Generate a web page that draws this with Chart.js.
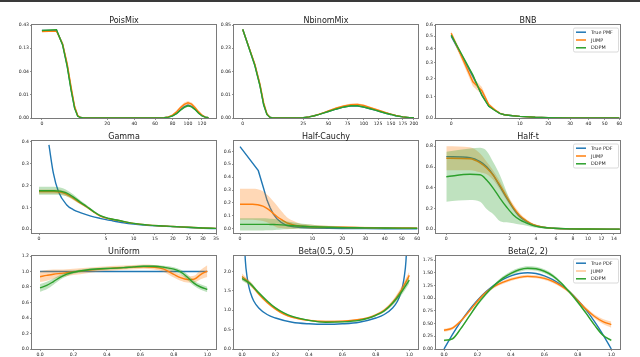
<!DOCTYPE html>
<html>
<head>
<meta charset="utf-8">
<script src="https://cdn.jsdelivr.net/npm/chart.js@4.4.0/dist/chart.umd.min.js"></script>
<style>
  html, body { margin: 0; padding: 0; background: #fff; }
  #page { position: relative; width: 640px; height: 357px; overflow: hidden; background: #fff; }
  #topbar { position: absolute; left: 0; top: 0; width: 640px; height: 2px; background: #3a3a3a; }
  canvas { position: absolute; }
</style>
</head>
<body>
<div id="page"><div id="topbar"></div></div>
<script>
// colours (matplotlib tab10)
const BLUE = '#1f77b4', ORANGE = '#ff7f0e', GREEN = '#2ca02c';
const ORANGE_FILL = 'rgba(255,127,14,0.3)', GREEN_FILL = 'rgba(44,160,44,0.3)';
const FRAME = '#7a7a7a', TEXT = '#262626';
const FONT = 'DejaVu Sans';

// ---------- PoisMix ----------
const poisX = [0,1,2,3,4,5,6,7,8,10,15,20,30,40,50,60,65,70,75,80,85,90,95,100,105,110,115,120,125,130];
const poisTrue = [0.33,0.33,0.166,0.055,0.014,0.003,0.0005,0.0001,0,0,0,0,0,0,0,0,
  0.00001,0.00005,0.0002,0.0005,0.0012,0.0023,0.0034,0.004,0.0035,0.0024,0.0013,0.0006,0.0002,0.00005];
const poisJump = [0.315,0.32,0.17,0.06,0.016,0.0035,0.0006,0.0001,0,0,0,0,0,0,0,0,
  0.00001,0.00005,0.00025,0.0007,0.0016,0.003,0.0043,0.005,0.0044,0.003,0.0016,0.0007,0.0002,0.00005];
const poisJumpSd = [0.008,0.008,0.012,0.008,0.003,0.001,0.0002,0,0,0,0,0,0,0,0,0,
  0,0,0.0001,0.0002,0.0004,0.0006,0.0008,0.0009,0.0008,0.0006,0.0004,0.0002,0.0001,0];
const poisDdpm = [0.33,0.345,0.16,0.052,0.013,0.0028,0.0004,0.0001,0,0,0,0,0,0,0,0,
  0.00001,0.00005,0.0002,0.0005,0.0011,0.0021,0.0031,0.0037,0.0033,0.0023,0.0012,0.0005,0.0002,0.00005];
const poisDdpmSd = [0.006,0.006,0.006,0.003,0.001,0.0003,0,0,0,0,0,0,0,0,0,0,
  0,0,0,0.0001,0.0001,0.0002,0.0002,0.0003,0.0002,0.0002,0.0001,0.0001,0,0];
const poisXTicks = [0,20,40,60,80,100,120];
const poisYLabels = ['0.00','0.01','0.04','0.13','0.43'];

// ---------- NbinomMix ----------
const nbX = [0,1,2,3,4,5,6,8,10,15,20,25,30,35,40,45,50,60,70,80,90,100,110,120,130,140,150,160,175,190,200];
const nbTrue = [0.665,0.085,0.025,0.005,0.001,0.0002,0,0,0,0,
  0.00003,0.0001,0.0003,0.0006,0.001,0.0015,0.002,0.003,0.0039,0.0044,0.0043,0.0038,0.0031,0.0025,0.0019,0.0014,0.001,0.0006,0.0003,0.0001,0.00005];
const nbJump = [0.66,0.09,0.027,0.006,0.0012,0.0002,0,0,0,0,
  0.00003,0.0001,0.0003,0.0006,0.0011,0.0016,0.0022,0.0034,0.0044,0.0051,0.0052,0.0046,0.0037,0.0029,0.0022,0.0016,0.0011,0.0007,0.0003,0.0001,0.00005];
const nbJumpSd = [0.01,0.006,0.003,0.001,0.0003,0,0,0,0,0,
  0,0,0.0001,0.0001,0.0002,0.0002,0.0003,0.0004,0.0005,0.0006,0.0006,0.0005,0.0004,0.0003,0.0003,0.0002,0.0002,0.0001,0.0001,0,0];
const nbDdpm = [0.67,0.083,0.024,0.005,0.001,0.0002,0,0,0,0,
  0.00003,0.0001,0.0003,0.0006,0.001,0.0015,0.002,0.003,0.0039,0.0045,0.0045,0.0039,0.0032,0.0025,0.0019,0.0014,0.001,0.0006,0.0003,0.0001,0.00005];
const nbDdpmSd = [0.008,0.004,0.002,0.0008,0.0002,0,0,0,0,0,
  0,0,0,0.0001,0.0001,0.0001,0.0002,0.0002,0.0002,0.0003,0.0003,0.0002,0.0002,0.0002,0.0001,0.0001,0.0001,0,0,0,0];
const nbXTicks = [0,25,50,75,100,125,150,175,200];
const nbYLabels = ['0.00','0.01','0.06','0.23','0.85'];

// ---------- BNB ----------
const bnbX = [0,1,2,3,4,5,6,8,10,15,20,30,40,50,60];
const bnbTrue = [0.5,0.21,0.11,0.053,0.035,0.02,0.014,0.0098,0.007,0.003,0.0015,0.0005,0.0002,0.0001,0];
const bnbJump = [0.525,0.18,0.13,0.06,0.037,0.021,0.014,0.01,0.007,0.003,0.0015,0.0005,0.0002,0.0001,0];
const bnbJumpSd = [0.02,0.025,0.02,0.008,0.004,0.002,0.001,0.001,0.001,0,0,0,0,0,0];
const bnbDdpm = [0.51,0.22,0.105,0.052,0.034,0.02,0.014,0.0098,0.007,0.003,0.0015,0.0005,0.0002,0.0001,0];
const bnbDdpmSd = [0.008,0.006,0.004,0.003,0.002,0.001,0.001,0,0,0,0,0,0,0,0];
const bnbXTicks = [0,10,20,30,40,50,60];
const bnbYTicks = [0,0.1,0.2,0.3,0.4,0.5,0.6];

// ---------- Gamma ----------
const gamTrueX = [0.11,0.23,0.42,0.86,1.3,1.9,3,4.15,6,8,10,13,16,20,25,30,35];
const gamTrue = [0.385,0.256,0.172,0.111,0.09,0.076,0.06,0.05,0.039,0.03,0.024,0.018,0.015,0.012,0.008,0.005,0.003];
const gamX = [0,0.1,0.25,0.5,0.8,1.3,1.9,2.5,3.3,4.2,5.5,7,10,13,16,20,25,30,35];
const gamJump = [0.172,0.172,0.172,0.17,0.162,0.142,0.12,0.103,0.08,0.06,0.048,0.04,0.027,0.02,0.016,0.013,0.009,0.006,0.004];
const gamJumpSd = [0.01,0.01,0.01,0.01,0.01,0.008,0.006,0.005,0.004,0.003,0.003,0.002,0.002,0.001,0.001,0.001,0.001,0.001,0.001];
const gamDdpm = [0.176,0.176,0.176,0.174,0.167,0.148,0.124,0.105,0.082,0.062,0.049,0.041,0.027,0.02,0.016,0.013,0.009,0.006,0.004];
const gamDdpmSd = [0.018,0.018,0.018,0.017,0.015,0.012,0.009,0.007,0.005,0.004,0.003,0.003,0.002,0.002,0.001,0.001,0.001,0.001,0.001];
const gamXTicks = [0,5,10,15,20,25,30,35];
const gamYTicks = [0,0.1,0.2,0.3,0.4];

// ---------- Half-Cauchy ----------
const hcTrueX = [0,0.64,1.04,1.4,1.72,2.1,2.57,3.2,4.16,5.5,7,10,15,20,30,40,50,60];
const hcTrue = [0.637,0.45,0.32,0.22,0.165,0.115,0.08,0.05,0.025,0.015,0.01,0.006,0.003,0.0016,0.0007,0.0004,0.0003,0.0002];
const hcX = [0,0.3,0.6,1,1.5,2,2.6,3.3,4.2,5.5,7,9.4,12,15,20,25,30,40,50,60];
const hcJump = [0.19,0.19,0.186,0.175,0.152,0.125,0.095,0.07,0.045,0.03,0.021,0.016,0.013,0.012,0.011,0.01,0.009,0.007,0.006,0.005];
const hcJumpSd = [0.12,0.12,0.12,0.115,0.105,0.095,0.085,0.065,0.045,0.03,0.018,0.017,0.014,0.012,0.01,0.008,0.007,0.006,0.005,0.005];
const hcDdpm = [0.034,0.034,0.034,0.034,0.034,0.033,0.032,0.03,0.027,0.023,0.02,0.016,0.013,0.011,0.009,0.008,0.007,0.006,0.005,0.004];
const hcDdpmSd = [0.048,0.048,0.048,0.047,0.046,0.044,0.04,0.035,0.03,0.025,0.02,0.016,0.013,0.011,0.009,0.008,0.007,0.006,0.005,0.004];
const hcXTicks = [0,10,20,30,40,50,60];
const hcYTicks = [0,0.1,0.2,0.3,0.4,0.5,0.6];

// ---------- Half-t ----------
const htX = [0,0.28,0.57,0.81,1.1,1.44,1.82,2.24,2.7,3.22,3.77,4.69,5.7,7.6,10,15];
const htTrue = [0.70,0.69,0.652,0.603,0.523,0.41,0.30,0.20,0.12,0.073,0.041,0.019,0.01,0.003,0.001,0];
const htJump = [0.685,0.68,0.64,0.59,0.52,0.42,0.31,0.21,0.13,0.08,0.045,0.02,0.01,0.004,0.002,0.001];
const htJumpSd = [0.115,0.11,0.09,0.06,0.045,0.04,0.035,0.03,0.025,0.015,0.01,0.006,0.004,0.002,0.001,0.001];
const htDdpm = [0.507,0.53,0.525,0.475,0.395,0.298,0.212,0.138,0.09,0.06,0.035,0.017,0.01,0.004,0.002,0.001];
const htDdpmSd = [0.241,0.249,0.26,0.28,0.25,0.22,0.145,0.08,0.045,0.025,0.015,0.01,0.008,0.006,0.005,0.004];
const htXTicks = [0,2,4,6,8,10,12,14];
const htYTicks = [0,0.2,0.4,0.6,0.8];

// ---------- Uniform ----------
const unTrueX = [0,1];
const unTrue = [1,1];
const unX = [0,0.04,0.08,0.12,0.16,0.2,0.28,0.36,0.42,0.5,0.56,0.62,0.68,0.74,0.8,0.84,0.88,0.92,0.96,1.0];
const unJump = [0.933,0.95,0.965,0.975,0.984,0.995,1.014,1.03,1.04,1.05,1.057,1.062,1.055,1.03,0.962,0.92,0.897,0.9,0.96,1.005];
const unJumpSd = [0.07,0.068,0.06,0.05,0.045,0.04,0.035,0.03,0.03,0.028,0.028,0.028,0.03,0.035,0.04,0.04,0.04,0.045,0.06,0.075];
const unDdpm = [0.79,0.82,0.87,0.925,0.965,0.99,1.02,1.035,1.04,1.05,1.06,1.068,1.068,1.055,1.03,0.995,0.93,0.85,0.8,0.768];
const unDdpmSd = [0.05,0.048,0.04,0.03,0.025,0.02,0.015,0.015,0.015,0.015,0.015,0.015,0.015,0.02,0.025,0.03,0.035,0.035,0.035,0.035];
const unYTicks = [0,0.2,0.4,0.6,0.8,1.0,1.2];

// ---------- Beta(0.5, 0.5) ----------
const b05TrueX = [0.01,0.02,0.03,0.04,0.05,0.07,0.1,0.15,0.2,0.3,0.4,0.5,0.6,0.7,0.8,0.85,0.9,0.93,0.95,0.96,0.97,0.98,0.99];
const b05True = [3.2,2.27,1.87,1.62,1.46,1.24,1.06,0.89,0.8,0.69,0.65,0.637,0.65,0.69,0.8,0.89,1.06,1.24,1.46,1.62,1.87,2.27,3.2];
const b05X = [0,0.05,0.1,0.15,0.2,0.25,0.3,0.4,0.5,0.6,0.7,0.75,0.8,0.85,0.9,0.95,1.0];
const b05Jump = [1.87,1.68,1.42,1.2,1.03,0.9,0.82,0.74,0.71,0.72,0.76,0.8,0.88,1.0,1.2,1.5,1.9];
const b05JumpSd = [0.08,0.06,0.04,0.03,0.025,0.02,0.02,0.02,0.02,0.02,0.02,0.025,0.03,0.04,0.06,0.09,0.1];
const b05Ddpm = [1.82,1.68,1.45,1.24,1.06,0.93,0.84,0.74,0.69,0.7,0.74,0.79,0.87,0.98,1.18,1.45,1.78];
const b05DdpmSd = [0.06,0.05,0.04,0.03,0.02,0.015,0.015,0.015,0.015,0.015,0.015,0.02,0.02,0.03,0.05,0.08,0.09];
const b05YTicks = [0,0.5,1.0,1.5,2.0];

// ---------- Beta(2, 2) ----------
const b22X = [0,0.05,0.1,0.15,0.2,0.25,0.3,0.35,0.4,0.45,0.5,0.55,0.6,0.65,0.7,0.75,0.8,0.85,0.9,0.95,1.0];
const b22True = [0,0.285,0.54,0.765,0.96,1.125,1.26,1.365,1.44,1.485,1.5,1.485,1.44,1.365,1.26,1.125,0.96,0.765,0.54,0.285,0];
const b22Jump = [0.37,0.41,0.55,0.74,0.94,1.11,1.23,1.31,1.37,1.41,1.43,1.42,1.39,1.33,1.24,1.12,0.95,0.78,0.64,0.54,0.48];
const b22JumpSd = [0.03,0.03,0.03,0.03,0.03,0.03,0.03,0.03,0.03,0.03,0.03,0.03,0.03,0.03,0.03,0.03,0.03,0.035,0.04,0.05,0.06];
const b22Ddpm = [0.17,0.2,0.4,0.64,0.88,1.08,1.25,1.39,1.49,1.56,1.59,1.58,1.53,1.44,1.3,1.12,0.92,0.7,0.47,0.27,0.17];
const b22DdpmSd = [0.02,0.02,0.02,0.025,0.03,0.03,0.03,0.035,0.04,0.04,0.04,0.04,0.04,0.035,0.03,0.03,0.03,0.025,0.02,0.02,0.02];
const b22YTicks = [0,0.25,0.5,0.75,1.0,1.25,1.5,1.75];

const unitXTicks = [0,0.2,0.4,0.6,0.8,1.0];

// axis transforms (the original uses sqrt x axes and log-like y axes on the first row)
const sqrtT = v => Math.sign(v) * Math.sqrt(Math.abs(v));
const ident = v => v;
const logT = a => v => Math.log(v + a);

const PAD = { l: 30, t: 16, r: 8, b: 12 };

const pmfLegend = ['True PMF', 'JUMP', 'DDPM'];
const pdfLegend = ['True PDF', 'JUMP', 'DDPM'];

const panels = [
  { title: 'PoisMix', frame: [32, 25, 216, 118], tx: sqrtT, ty: logT(0.0045), xlim: [-0.46, 142], ylim: [0, 0.435],
    xTicks: poisXTicks, xDigits: 0, yLabels: poisYLabels, trueX: poisX, trueY: poisTrue,
    x: poisX, jump: poisJump, jumpSd: poisJumpSd, ddpm: poisDdpm, ddpmSd: poisDdpmSd, pmf: true },
  { title: 'NbinomMix', frame: [234, 25, 418, 118], tx: sqrtT, ty: logT(0.0045), xlim: [-0.52, 209.7], ylim: [0, 0.855],
    xTicks: nbXTicks, xDigits: 0, yLabels: nbYLabels, trueX: nbX, trueY: nbTrue,
    x: nbX, jump: nbJump, jumpSd: nbJumpSd, ddpm: nbDdpm, ddpmSd: nbDdpmSd, pmf: true },
  { title: 'BNB', frame: [436, 25, 620, 118], tx: sqrtT, ty: logT(0.5), xlim: [-0.49, 60.5], ylim: [0, 0.6],
    xTicks: bnbXTicks, xDigits: 0, yTicks: bnbYTicks, yDigits: 1, trueX: bnbX, trueY: bnbTrue,
    x: bnbX, jump: bnbJump, jumpSd: bnbJumpSd, ddpm: bnbDdpm, ddpmSd: bnbDdpmSd, pmf: true, legend: pmfLegend },
  { title: 'Gamma', frame: [32, 141, 216, 233], tx: sqrtT, ty: ident, xlim: [-0.055, 35.0], ylim: [-0.017, 0.403],
    xTicks: gamXTicks, xDigits: 0, yTicks: gamYTicks, yDigits: 1, trueX: gamTrueX, trueY: gamTrue,
    x: gamX, jump: gamJump, jumpSd: gamJumpSd, ddpm: gamDdpm, ddpmSd: gamDdpmSd },
  { title: 'Half-Cauchy', frame: [234, 141, 418, 233], tx: sqrtT, ty: ident, xlim: [-0.069, 60.5], ylim: [-0.033, 0.68],
    xTicks: hcXTicks, xDigits: 0, yTicks: hcYTicks, yDigits: 1, trueX: hcTrueX, trueY: hcTrue, straightTrue: true,
    x: hcX, jump: hcJump, jumpSd: hcJumpSd, ddpm: hcDdpm, ddpmSd: hcDdpmSd },
  { title: 'Half-t', frame: [436, 141, 620, 233], tx: sqrtT, ty: ident, xlim: [-0.053, 15.03], ylim: [-0.036, 0.851],
    xTicks: htXTicks, xDigits: 0, yTicks: htYTicks, yDigits: 1, trueX: htX, trueY: htTrue,
    x: htX, jump: htJump, jumpSd: htJumpSd, ddpm: htDdpm, ddpmSd: htDdpmSd, legend: pdfLegend },
  { title: 'Uniform', frame: [32, 256, 216, 349], tx: ident, ty: ident, xlim: [-0.048, 1.052], ylim: [0, 1.2],
    xTicks: unitXTicks, xDigits: 1, yTicks: unYTicks, yDigits: 1, trueX: unTrueX, trueY: unTrue,
    x: unX, jump: unJump, jumpSd: unJumpSd, ddpm: unDdpm, ddpmSd: unDdpmSd },
  { title: 'Beta(0.5, 0.5)', frame: [234, 256, 418, 349], tx: ident, ty: ident, xlim: [-0.048, 1.052], ylim: [0, 2.4],
    xTicks: unitXTicks, xDigits: 1, yTicks: b05YTicks, yDigits: 1, trueX: b05TrueX, trueY: b05True,
    x: b05X, jump: b05Jump, jumpSd: b05JumpSd, ddpm: b05Ddpm, ddpmSd: b05DdpmSd },
  { title: 'Beta(2, 2)', frame: [436, 256, 620, 349], tx: ident, ty: ident, xlim: [-0.048, 1.052], ylim: [0, 1.83],
    xTicks: unitXTicks, xDigits: 1, yTicks: b22YTicks, yDigits: 2, trueX: b22X, trueY: b22True,
    x: b22X, jump: b22Jump, jumpSd: b22JumpSd, ddpm: b22Ddpm, ddpmSd: b22DdpmSd, legend: pdfLegend, paleJump: true },
];

Chart.defaults.font.family = FONT;

function pts(xs, ys, tx, ty) {
  return xs.map((x, i) => ({ x: tx(x), y: ty(ys[i]) }));
}

function lineDs(data, color, width, order, smooth) {
  return {
    data, borderColor: color, borderWidth: width, pointRadius: 0, fill: false, order,
    tension: 0, cubicInterpolationMode: smooth ? 'monotone' : 'default',
  };
}

function decor(p) {
  return {
    id: 'decor',
    afterDatasetsDraw(chart) {
      const { ctx, chartArea: a } = chart;
      ctx.save();
      ctx.strokeStyle = FRAME;
      ctx.lineWidth = 1;
      ctx.strokeRect(a.left - 0.5, a.top - 0.5, a.right - a.left + 1, a.bottom - a.top + 1);

      if (p.legend) {
        const w = 45, h = 24, x0 = a.right - w - 1.5, y0 = a.top + 3;
        ctx.fillStyle = 'rgba(255,255,255,0.85)';
        ctx.strokeStyle = '#d0d0d0';
        ctx.lineWidth = 0.8;
        ctx.beginPath();
        if (ctx.roundRect) ctx.roundRect(x0, y0, w, h, 1.5); else ctx.rect(x0, y0, w, h);
        ctx.fill();
        ctx.stroke();
        const cols = [BLUE, p.paleJump ? 'rgba(255,127,14,0.45)' : ORANGE, GREEN];
        ctx.font = `4.9px ${FONT}`;
        ctx.textBaseline = 'middle';
        p.legend.forEach((lab, i) => {
          const y = y0 + 4.2 + i * 7.8;
          ctx.strokeStyle = cols[i];
          ctx.lineWidth = 1.5;
          ctx.beginPath();
          ctx.moveTo(x0 + 2.5, y);
          ctx.lineTo(x0 + 12.5, y);
          ctx.stroke();
          ctx.fillStyle = TEXT;
          ctx.fillText(lab, x0 + 17.5, y + 0.3);
        });
      }

      ctx.fillStyle = '#1a1a1a';
      ctx.font = `8px ${FONT}`;
      ctx.textAlign = 'center';
      ctx.textBaseline = 'alphabetic';
      ctx.fillText(p.title, (a.left + a.right) / 2, a.top - 2);
      ctx.restore();
    }
  };
}

function buildPanel(p) {
  const [L, T, R, B] = p.frame;
  const cv = document.createElement('canvas');
  const W = R - L + PAD.l + PAD.r, H = B - T + PAD.t + PAD.b;
  cv.width = W; cv.height = H;
  cv.style.left = (L - PAD.l) + 'px';
  cv.style.top = (T - PAD.t) + 'px';
  cv.style.width = W + 'px';
  cv.style.height = H + 'px';
  document.getElementById('page').appendChild(cv);

  const { tx, ty } = p;
  const smooth = !p.pmf;
  const lo = (m, s) => m.map((v, i) => p.pmf ? Math.max(0, v - s[i]) : v - s[i]);
  const hi = (m, s) => m.map((v, i) => v + s[i]);

  const ymin = ty(p.ylim[0]), ymax = ty(p.ylim[1]);
  let yVals, yLabs;
  if (p.yLabels) {
    yVals = p.yLabels.map((_, k) => ymin + (ymax - ymin) * k / (p.yLabels.length - 1));
    yLabs = p.yLabels;
  } else {
    yVals = p.yTicks.map(ty);
    yLabs = p.yTicks.map(v => v.toFixed(p.yDigits));
  }
  const xVals = p.xTicks.map(tx);
  const xLabs = p.xTicks.map(v => v.toFixed(p.xDigits));

  const tickFont = { size: 4.6, family: FONT };
  const lw = 1.4;

  new Chart(cv, {
    type: 'line',
    data: {
      datasets: [
        lineDs(pts(p.trueX, p.trueY, tx, ty), BLUE, lw, 7, smooth && !p.straightTrue),
        lineDs(pts(p.x, lo(p.jump, p.jumpSd), tx, ty), 'rgba(0,0,0,0)', 0, 6, smooth),
        Object.assign(lineDs(pts(p.x, hi(p.jump, p.jumpSd), tx, ty), 'rgba(0,0,0,0)', 0, 5, smooth),
          { fill: '-1', backgroundColor: ORANGE_FILL }),
        lineDs(pts(p.x, p.jump, tx, ty), ORANGE, lw, 4, smooth),
        lineDs(pts(p.x, lo(p.ddpm, p.ddpmSd), tx, ty), 'rgba(0,0,0,0)', 0, 3, smooth),
        Object.assign(lineDs(pts(p.x, hi(p.ddpm, p.ddpmSd), tx, ty), 'rgba(0,0,0,0)', 0, 2, smooth),
          { fill: '-1', backgroundColor: GREEN_FILL }),
        lineDs(pts(p.x, p.ddpm, tx, ty), GREEN, lw, 1, smooth),
      ]
    },
    options: {
      responsive: false,
      animation: false,
      devicePixelRatio: 1,
      events: [],
      layout: { padding: { left: 0, top: PAD.t, right: PAD.r, bottom: 0 } },
      plugins: { legend: { display: false }, tooltip: { enabled: false }, title: { display: false } },
      scales: {
        x: {
          type: 'linear', min: tx(p.xlim[0]), max: tx(p.xlim[1]),
          afterFit: s => { s.height = PAD.b; },
          afterBuildTicks: s => { s.ticks = xVals.map(v => ({ value: v })); },
          ticks: { autoSkip: false, maxRotation: 0, minRotation: 0, padding: 1, font: tickFont, color: TEXT,
            callback: (v, i) => xLabs[i] },
          grid: { drawOnChartArea: false, tickLength: 2, color: FRAME, lineWidth: 0.8 },
          border: { display: false },
        },
        y: {
          type: 'linear', min: ymin, max: ymax,
          afterFit: s => { s.width = PAD.l; },
          afterBuildTicks: s => { s.ticks = yVals.map(v => ({ value: v })); },
          ticks: { autoSkip: false, padding: 1, font: tickFont, color: TEXT,
            callback: (v, i) => yLabs[i] },
          grid: { drawOnChartArea: false, tickLength: 2, color: FRAME, lineWidth: 0.8 },
          border: { display: false },
        }
      }
    },
    plugins: [decor(p)]
  });
}

panels.forEach(buildPanel);
</script>
</body>
</html>
